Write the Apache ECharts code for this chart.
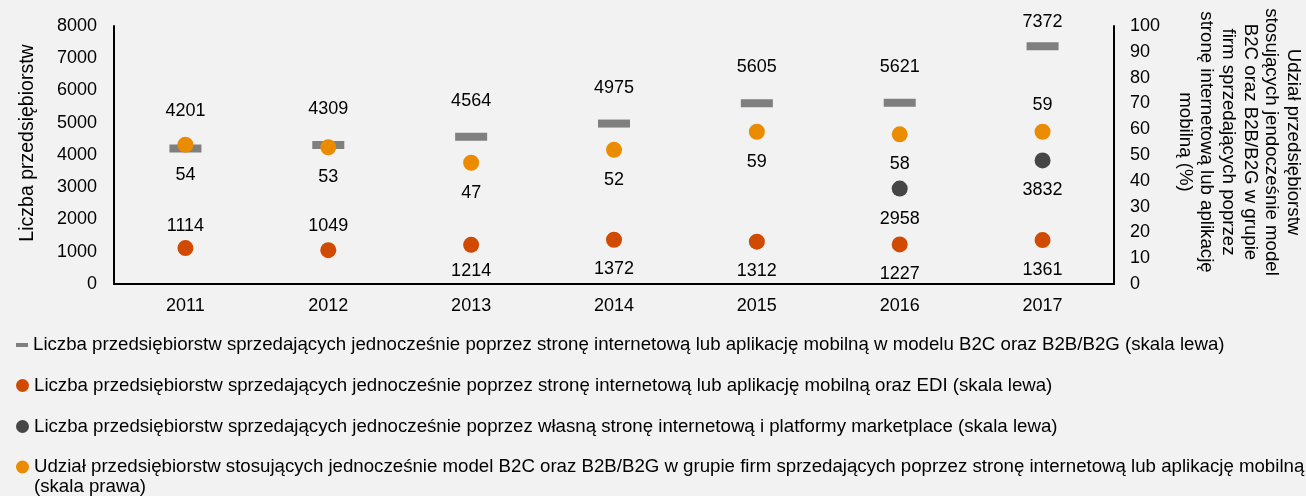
<!DOCTYPE html>
<html>
<head>
<meta charset="utf-8">
<script src="https://cdn.jsdelivr.net/npm/echarts@6/dist/echarts.min.js"></script>
<style>
html,body{margin:0;padding:0;background:#f2f2f2;}
#c{width:1306px;height:496px;}
</style>
</head>
<body>
<div id="c"></div>
<script>
// ---- data ----
const years = ['2011', '2012', '2013', '2014', '2015', '2016', '2017'];
const b2cB2b = [4201, 4309, 4564, 4975, 5605, 5621, 7372];
const edi = [1114, 1049, 1214, 1372, 1312, 1227, 1361];
const marketplace = ['-', '-', '-', '-', '-', 2958, 3832];
const sharePct = [54, 53, 47, 52, 59, 58, 59];
const leftTicks = [0, 8000, 1000];
const rightTicks = [0, 100, 10];

const names = [
  'Liczba przedsiębiorstw sprzedających jednocześnie poprzez stronę internetową lub aplikację mobilną w modelu B2C oraz B2B/B2G (skala lewa)',
  'Liczba przedsiębiorstw sprzedających jednocześnie poprzez stronę internetową lub aplikację mobilną oraz EDI (skala lewa)',
  'Liczba przedsiębiorstw sprzedających jednocześnie poprzez własną stronę internetową i platformy marketplace (skala lewa)',
  'Udział przedsiębiorstw stosujących jednocześnie model B2C oraz B2B/B2G w grupie firm sprzedających poprzez stronę internetową lub aplikację mobilną (skala prawa)'
];

// ---- styles ----
const FONT = 'Liberation Sans, Arial, sans-serif';
const FS = 18;
const FS_LEG = 18.67;
const C_GRAY = '#7f7f7f', C_RED = '#d04a02', C_DARK = '#464646', C_ORANGE = '#eb8c00';
const offs = {
  b2c: [-37, -36, -36, -36, -36, -36, -24],
  edi: [-22, -24, 26, 29, 29, 30, 30],
  mkt: [0, 0, 0, 0, 0, 30, 30],
  share: [30, 30, 30, 30, 30, 30, -27]
};
function withLabels(vals, off) {
  return vals.map((v, i) => ({
    value: v,
    label: { offset: [0, off[i]] }
  }));
}
const labelBase = { show: true, position: 'inside', color: '#000', fontFamily: FONT, fontSize: FS };

const chart = echarts.init(document.getElementById('c'), null, { renderer: 'canvas' });

function legendAt(name, top, icon, w, h) {
  return {
    data: [{ name: name, icon: icon }],
    left: 16,
    top: top,
    padding: 0,
    itemWidth: w,
    itemHeight: h,
    selectedMode: false,
    textStyle: { color: '#000', fontFamily: FONT, fontSize: FS_LEG, lineHeight: 20 }
  };
}

const option = {
  backgroundColor: '#f2f2f2',
  animation: false,
  textStyle: { fontFamily: FONT },
  grid: { left: 114, right: 192, top: 26, bottom: 212, containLabel: false },
  legend: [
    legendAt(names[0], 335, 'rect', 12, 4),
    legendAt(names[1], 375.5, 'circle', 13, 13),
    legendAt(names[2], 416.5, 'circle', 13, 13),
    Object.assign(legendAt(names[3], 437, 'circle', 13, 13), {
      formatter: function (n) {
        return '\n' + n.replace(' (skala prawa)', '\n(skala prawa)');
      }
    })
  ],
  xAxis: {
    type: 'category',
    data: years,
    boundaryGap: true,
    axisLine: { lineStyle: { color: '#000', width: 2 } },
    axisTick: { show: false },
    axisLabel: { color: '#000', fontFamily: FONT, fontSize: FS, margin: 13 },
    splitLine: { show: false }
  },
  yAxis: [
    {
      type: 'value', min: leftTicks[0], max: leftTicks[1], interval: leftTicks[2],
      axisLine: { show: true, lineStyle: { color: '#000', width: 2 } },
      axisTick: { show: false },
      splitLine: { show: false },
      axisLabel: { color: '#000', fontFamily: FONT, fontSize: FS, margin: 17, formatter: v => String(v) }
    },
    {
      type: 'value', min: rightTicks[0], max: rightTicks[1], interval: rightTicks[2],
      position: 'right',
      axisLine: { show: true, lineStyle: { color: '#000', width: 2 } },
      axisTick: { show: false },
      splitLine: { show: false },
      axisLabel: { color: '#000', fontFamily: FONT, fontSize: FS, margin: 16, formatter: v => String(v) }
    }
  ],
  graphic: [
    {
      type: 'text', x: 28, y: 143, rotation: Math.PI / 2,
      style: { text: 'Liczba przedsiębiorstw', fill: '#000', font: '19.5px ' + FONT, align: 'center', verticalAlign: 'middle' }
    },
    {
      type: 'text', x: 1239, y: 142, rotation: -Math.PI / 2,
      style: {
        text: 'Udział przedsiębiorstw\nstosujących jendocześnie model\nB2C oraz B2B/B2G w grupie\nfirm sprzedających poprzez\nstronę internetową lub aplikację\nmobilną (%)',
        fill: '#000', font: FS_LEG + 'px ' + FONT, align: 'center', verticalAlign: 'middle', lineHeight: 21.6
      }
    }
  ],
  series: [
    {
      name: names[0], type: 'scatter', yAxisIndex: 0,
      symbol: 'rect', symbolSize: [32, 8],
      itemStyle: { color: C_GRAY, opacity: 1 },
      label: labelBase,
      data: withLabels(b2cB2b, offs.b2c)
    },
    {
      name: names[1], type: 'scatter', yAxisIndex: 0,
      symbol: 'circle', symbolSize: 16,
      itemStyle: { color: C_RED, opacity: 1 },
      label: labelBase,
      data: withLabels(edi, offs.edi)
    },
    {
      name: names[2], type: 'scatter', yAxisIndex: 0,
      symbol: 'circle', symbolSize: 16,
      itemStyle: { color: C_DARK, opacity: 1 },
      label: labelBase,
      data: withLabels(marketplace, offs.mkt)
    },
    {
      name: names[3], type: 'scatter', yAxisIndex: 1,
      symbol: 'circle', symbolSize: 16,
      itemStyle: { color: C_ORANGE, opacity: 1 },
      label: labelBase,
      data: withLabels(sharePct, offs.share)
    }
  ]
};
chart.setOption(option);
</script>
</body>
</html>
